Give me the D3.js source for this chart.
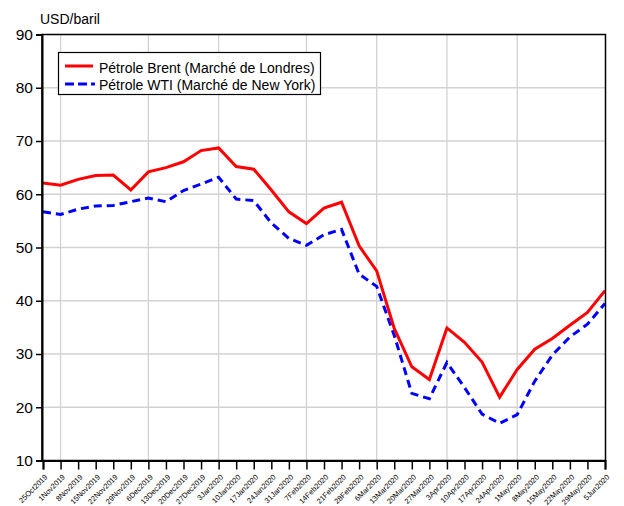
<!DOCTYPE html>
<html><head><meta charset="utf-8">
<script src="https://cdn.jsdelivr.net/npm/d3@7"></script>
<style>body{margin:0;background:#fff;} svg{display:block;font-family:"Liberation Sans",Arial,sans-serif;}</style>
</head><body><svg id="c" width="624" height="506"></svg>
<script>
const dates = ["25Oct2019","1Nov2019","8Nov2019","15Nov2019","22Nov2019","29Nov2019","6Dec2019","13Dec2019","20Dec2019","27Dec2019","3Jan2020","10Jan2020","17Jan2020","24Jan2020","31Jan2020","7Feb2020","14Feb2020","21Feb2020","28Feb2020","6Mar2020","13Mar2020","20Mar2020","27Mar2020","3Apr2020","10Apr2020","17Apr2020","24Apr2020","1May2020","8May2020","15May2020","22May2020","29May2020","5Jun2020"];
const brent = [62.1,61.7,62.8,63.5,63.6,60.8,64.2,65.0,66.1,68.2,68.7,65.2,64.7,60.8,56.7,54.5,57.4,58.5,50.3,45.6,34.8,27.6,25.2,34.9,32.2,28.5,21.9,27.1,30.9,32.9,35.4,37.8,41.9];
const wti = [56.7,56.2,57.2,57.8,57.9,58.6,59.3,58.6,60.7,61.9,63.2,59.1,58.8,54.6,51.7,50.4,52.4,53.4,45.0,42.7,33.5,22.6,21.6,28.4,23.7,18.7,17.0,18.6,24.9,29.8,33.2,35.6,39.5];
const yTicks = [10,20,30,40,50,60,70,80,90];
const gridDates = ["1Nov2019","6Dec2019","3Jan2020","7Feb2020","6Mar2020","3Apr2020","1May2020"];
const seriesNames = ["Pétrole Brent (Marché de Londres)","Pétrole WTI (Marché de New York)"];
const yTitle = "USD/baril";

const svg = d3.select("#c");
const L = 42, R = 605.5, T = 34.5, B = 460.5;
const x = d3.scalePoint().domain(dates).range([43, 605]);
const y = d3.scaleLinear().domain([10, 90]).range([B, T]);

// grid
const g = svg.append("g");
g.selectAll("line.h").data(yTicks.slice(1, -1)).join("line")
  .attr("x1", L).attr("x2", R).attr("y1", d => y(d)).attr("y2", d => y(d))
  .attr("stroke", "#d2d2d2").attr("stroke-width", 1.3);
g.selectAll("line.v").data(gridDates).join("line")
  .attr("x1", d => x(d)).attr("x2", d => x(d)).attr("y1", T).attr("y2", B)
  .attr("stroke", "#d2d2d2").attr("stroke-width", 1.3);

// lines
const line = arr => d3.line().x((d, i) => x(dates[i])).y(d => y(d))(arr);
svg.append("path").attr("d", line(wti)).attr("fill", "none").attr("stroke", "#0000ff")
  .attr("stroke-width", 3).attr("stroke-dasharray", "8,5");
svg.append("path").attr("d", line(brent)).attr("fill", "none").attr("stroke", "#ff0000")
  .attr("stroke-width", 3);

// frame
svg.append("rect").attr("x", L).attr("y", T).attr("width", R - L).attr("height", B - T)
  .attr("fill", "none").attr("stroke", "#000").attr("stroke-width", 1.5);

// y axis
const ya = svg.append("g").attr("transform", `translate(${L},0)`)
  .call(d3.axisLeft(y).tickValues(yTicks).tickSize(6).tickPadding(3).tickFormat(d3.format("d")));
ya.select(".domain").attr("stroke-width", 2);
ya.selectAll(".tick line").attr("stroke-width", 1.5);
ya.selectAll("text").attr("font-size", 15.5).attr("font-family", "Liberation Sans, Arial").attr("fill", "#000");

// x axis
const xa = svg.append("g").attr("transform", `translate(0,${B})`)
  .call(d3.axisBottom(x).tickSize(9).tickFormat(""));
xa.select(".domain").attr("stroke-width", 2);
xa.selectAll(".tick line").attr("stroke-width", 1.5);
svg.append("g").selectAll("text").data(dates).join("text")
  .attr("transform", d => `translate(${x(d) + 5},${B + 17}) rotate(-45)`)
  .attr("text-anchor", "end").attr("font-size", 7.5).attr("fill", "#000")
  .text(d => d);

// y title
svg.append("text").attr("x", 40).attr("y", 24).attr("font-size", 14).text(yTitle);

// legend
const lg = svg.append("g");
lg.append("rect").attr("x", 58.5).attr("y", 52.5).attr("width", 262).attr("height", 42)
  .attr("fill", "#fff").attr("stroke", "#000").attr("stroke-width", 1.2);
lg.append("line").attr("x1", 65).attr("x2", 93).attr("y1", 66).attr("y2", 66)
  .attr("stroke", "#ff0000").attr("stroke-width", 3);
lg.append("line").attr("x1", 65).attr("x2", 95).attr("y1", 84).attr("y2", 84)
  .attr("stroke", "#0000ff").attr("stroke-width", 3).attr("stroke-dasharray", "9,4");
lg.append("text").attr("x", 99).attr("y", 73).attr("font-size", 14).text(seriesNames[0]);
lg.append("text").attr("x", 99).attr("y", 90).attr("font-size", 14).text(seriesNames[1]);
</script></body></html>
